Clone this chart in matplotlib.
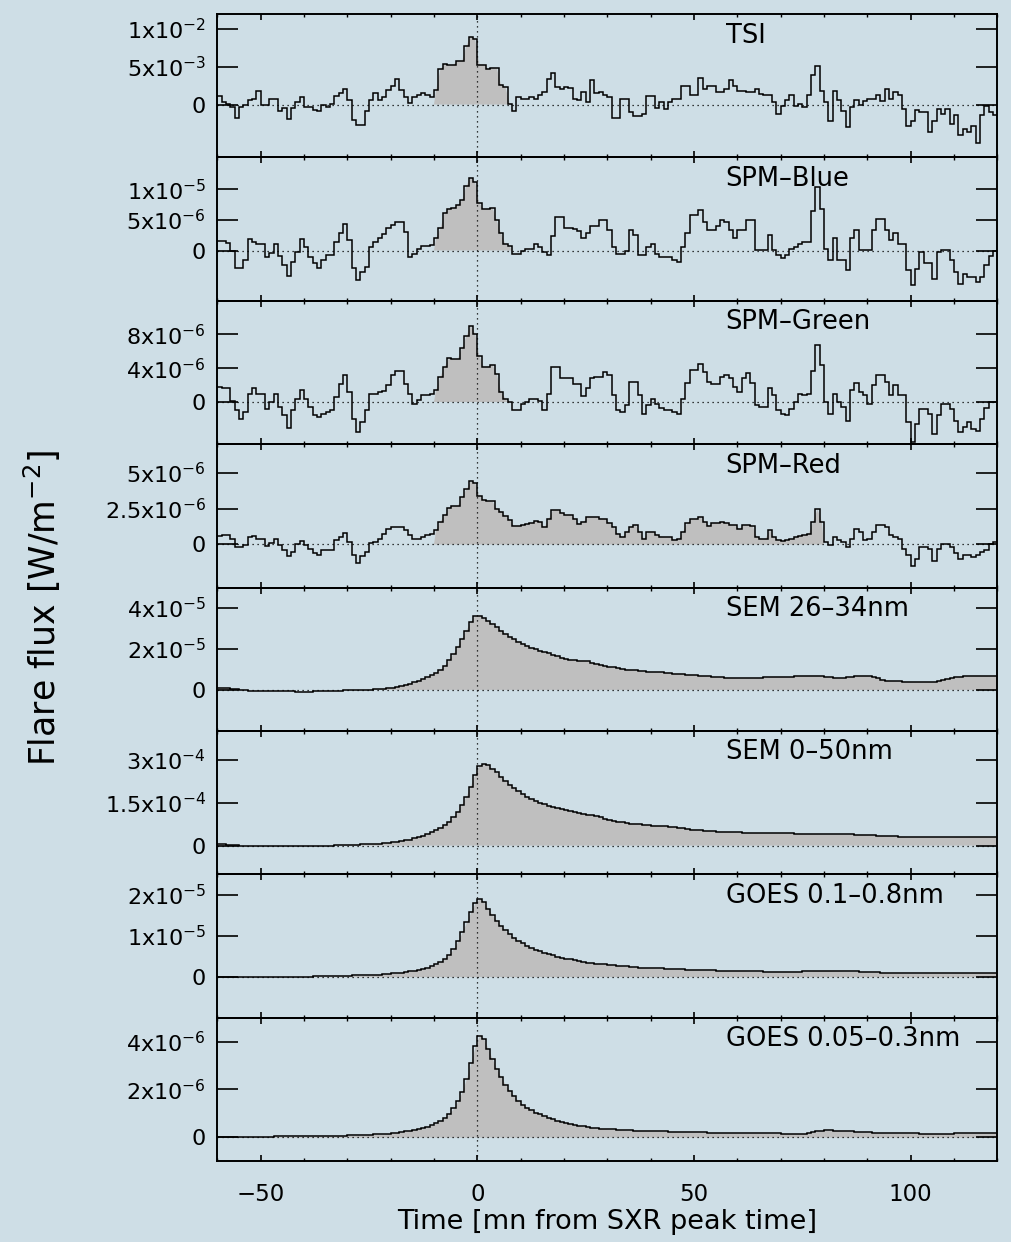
import numpy as np
import matplotlib
matplotlib.use("Agg")
import matplotlib.pyplot as plt
from matplotlib.ticker import MultipleLocator
from matplotlib.transforms import blended_transform_factory

# ---------------------------------------------------------------------------
# Flare light curves, 1-minute bins from -60 to +120 mn around the SXR peak
# ---------------------------------------------------------------------------
t_start, t_stop = -60, 120

tsi = [  # 1e-3 W/m^2
    1.1, 0.35, 0.1, -0.3, -1.75, -0.3, 0.0, 0.6, 0.7, 1.85,
    0.0, 0.0, 0.7, 0.8, -0.8, -0.5, -1.9, -0.5, 0.3, 0.95,
    -0.3, -0.3, -0.7, -0.85, 0.0, -0.3, 0.1, 1.1, 1.5, 2.1,
    0.6, -2.1, -2.7, -2.7, -0.8, 0.6, 1.5, 0.6, 1.0, 1.9,
    2.5, 3.4, 1.9, 1.0, 0.2, 1.0, 1.3, 1.5, 1.2, 1.0,
    1.9, 4.7, 5.4, 5.2, 5.3, 5.8, 5.8, 7.8, 9.0, 8.7,
    5.3, 5.3, 4.7, 4.9, 4.8, 2.6, 2.3, 0.1, -0.8, 0.95,
    0.8, 0.8, 0.95, 0.7, 1.3, 1.7, 3.4, 4.2, 2.3, 2.1,
    2.3, 2.2, 0.7, 0.6, 1.7, 0.4, 3.3, 1.5, 1.6, 1.3,
    1.0, -1.75, -1.75, 0.8, 0.8, -1.0, -1.5, -1.5, -1.2, 1.1,
    1.1, -0.5, 0.3, -0.6, 0.3, 0.8, 0.8, 2.4, 2.4, 1.2,
    1.2, 3.5, 2.0, 2.5, 2.5, 1.6, 1.6, 2.1, 3.2, 2.5,
    1.8, 1.8, 1.7, 1.7, 2.1, 1.4, 1.2, 1.2, 0.3, -1.3,
    -0.2, 0.6, 1.2, -0.2, 0.1, -0.3, 1.2, 3.9, 5.1, 1.8,
    0.3, -2.2, 1.8, 0.6, -0.9, -3.0, -0.3, 0.6, 0.0, 0.5,
    0.7, 0.7, 1.2, 0.5, 2.1, 0.8, 1.6, 1.2, -0.6, -2.8,
    -2.2, -0.7, -1.0, -1.0, -3.7, -2.2, -0.6, -1.3, -0.6, -2.6,
    -1.4, -4.0, -3.2, -3.6, -2.8, -5.1, -1.4, -0.2, -1.0, -1.4,
]

spm_blue = [  # 1e-6 W/m^2
    1.6, 1.6, 1.2, 0.0, -2.8, -2.8, -1.6, 1.95, 1.4, 1.0,
    1.0, -1.1, -0.4, 1.0, -0.9, -2.4, -4.1, -1.9, -0.2, 1.8,
    0.6, -1.0, -2.1, -2.8, -1.6, -0.7, -0.7, 1.4, 2.9, 4.3,
    1.7, -2.8, -4.8, -3.5, -2.7, 0.6, 1.4, 2.1, 2.7, 3.6,
    4.1, 4.7, 4.7, 3.0, -1.0, -0.6, 0.3, 0.7, 0.7, 0.9,
    2.0, 3.6, 6.2, 6.8, 6.9, 7.4, 8.2, 10.6, 11.9, 11.1,
    7.7, 6.7, 6.8, 7.0, 4.9, 2.8, 1.0, 0.7, -0.5, -0.6,
    0.0, 0.3, 0.3, 1.0, 0.6, -0.2, -0.8, 2.3, 5.5, 5.5,
    3.6, 3.7, 3.5, 3.2, 2.0, 2.8, 4.0, 4.0, 4.9, 4.9,
    3.3, 0.6, -0.5, -0.5, 0.0, 3.3, 2.5, -0.8, -0.8, 0.6,
    1.1, -0.5, -1.0, -1.0, -1.0, -1.6, -1.8, 0.6, 2.8, 5.8,
    5.8, 6.6, 4.6, 3.3, 3.3, 4.0, 4.9, 4.6, 3.3, 2.0,
    3.3, 3.3, 4.9, 4.9, 0.1, 0.1, 0.1, 2.5, 0.1, -0.8,
    -1.3, -0.8, 0.3, 0.6, 1.1, 1.4, 1.4, 6.5, 10.4, 6.8,
    0.3, -1.6, 2.0, -1.6, -1.6, -3.2, 2.1, 3.3, 0.1, 0.1,
    0.1, 3.3, 5.2, 5.2, 3.3, 1.7, 2.8, 1.1, 1.1, -3.2,
    -5.7, -3.0, -0.2, -2.1, -2.1, -4.6, -0.2, 0.1, 0.1, -1.6,
    -3.5, -5.4, -3.8, -4.3, -4.3, -5.1, -4.3, -2.4, -0.9, -0.1,
]

spm_green = [  # 1e-6 W/m^2
    1.8, 1.6, 1.6, 0.1, -1.0, -2.0, -1.2, 1.0, 1.6, 1.0,
    0.9, -0.8, 0.0, 0.9, -0.6, -1.6, -3.1, -1.0, 0.4, 1.4,
    0.4, -0.6, -1.6, -1.8, -1.4, -1.2, -1.0, 0.6, 2.1, 3.2,
    1.2, -2.0, -3.6, -2.4, -1.0, 0.9, 0.9, 1.2, 1.3, 2.0,
    3.2, 3.7, 3.7, 2.1, 1.0, -0.2, 0.2, 0.8, 0.8, 1.0,
    1.4, 3.0, 4.2, 5.2, 5.1, 5.1, 6.4, 7.8, 9.0, 8.1,
    5.4, 4.2, 4.2, 4.4, 3.3, 1.2, 0.4, 0.0, -0.9, -0.9,
    -0.2, 0.0, 0.4, 0.4, 0.1, -1.0, 1.0, 4.1, 4.1, 2.9,
    2.8, 2.8, 2.1, 2.1, 0.7, 1.6, 2.8, 3.0, 3.0, 3.6,
    3.2, 0.8, -1.0, -1.2, -0.4, 2.4, 2.4, 0.8, -1.4, -0.4,
    0.4, -0.2, -0.7, -1.0, -1.0, -1.2, -1.4, 0.4, 2.2, 3.8,
    3.8, 4.5, 3.6, 2.4, 2.1, 2.1, 3.0, 3.2, 2.8, 1.8,
    1.2, 2.8, 3.4, 2.2, -0.4, -0.6, -0.6, 1.7, 0.8, -1.0,
    -1.4, -1.6, -0.8, 0.0, 0.9, 0.8, 0.9, 3.7, 6.8, 4.4,
    0.0, -1.4, 1.0, 0.0, -0.6, -2.3, 1.4, 2.2, 1.2, 0.8,
    -0.2, 2.0, 3.2, 3.2, 2.4, 0.8, 2.0, 0.8, 0.8, -2.4,
    -4.8, -2.6, -0.8, -0.8, -1.4, -3.8, -1.6, -0.2, -0.2, -0.8,
    -2.2, -3.6, -3.0, -2.4, -3.2, -3.4, -2.0, -0.7, 0.0, 0.0,
]

spm_red = [  # 1e-6 W/m^2
    0.6, 0.65, 0.65, 0.4, -0.2, -0.2, -0.05, 0.5, 0.6, 0.4,
    0.35, -0.1, 0.1, 0.4, -0.05, -0.4, -0.8, -0.5, 0.0, 0.25,
    -0.05, -0.3, -0.6, -0.75, -0.35, -0.35, -0.35, 0.3, 0.5, 0.77,
    0.2, -0.75, -1.3, -0.8, -0.5, 0.1, 0.2, 0.4, 0.75, 1.05,
    1.2, 1.2, 1.2, 1.0, 0.65, 0.4, 0.4, 0.55, 0.65, 0.75,
    1.0, 1.6, 2.05, 2.55, 2.7, 2.7, 3.3, 3.85, 4.4, 4.3,
    3.4, 3.1, 3.0, 3.0, 2.5, 2.3, 2.0, 1.7, 1.3, 1.3,
    1.35, 1.4, 1.5, 1.65, 1.6, 1.2, 1.8, 2.4, 2.4, 2.2,
    2.05, 2.05, 1.8, 1.4, 1.6, 1.9, 1.9, 1.9, 1.8, 1.8,
    1.5, 1.2, 0.7, 0.5, 0.9, 1.2, 1.35, 0.9, 0.4, 0.9,
    0.9, 0.65, 0.55, 0.5, 0.5, 0.3, 0.35, 0.9, 1.5, 1.75,
    1.75, 1.9, 1.6, 1.3, 1.5, 1.5, 1.6, 1.5, 1.35, 1.35,
    1.1, 1.35, 1.35, 1.3, 0.55, 0.4, 0.4, 1.0, 0.55, 0.3,
    0.25, 0.3, 0.35, 0.5, 0.6, 0.65, 0.75, 1.6, 2.45, 1.6,
    0.2, -0.05, 0.5, 0.3, 0.2, -0.2, 0.4, 1.05, 0.9, 0.3,
    0.35, 0.9, 1.35, 1.35, 1.2, 0.65, 0.55, 0.4, -0.3, -0.75,
    -1.5, -1.0, -0.15, -0.15, -0.3, -1.15, -0.3, 0.05, 0.05, -0.2,
    -0.6, -1.0, -0.75, -0.75, -0.85, -0.75, -0.5, -0.4, 0.0, 0.2,
]

sem_26_34 = [  # 1e-5 W/m^2
    0.11, 0.10, 0.08, 0.05, 0.03, 0.01, -0.01, -0.03, -0.04, -0.05,
    -0.05, -0.05, -0.06, -0.06, -0.06, -0.07, -0.07, -0.07, -0.08, -0.08,
    -0.08, -0.08, -0.07, -0.07, -0.06, -0.05, -0.05, -0.04, -0.03, -0.02,
    -0.02, -0.01, 0.00, 0.00, 0.01, 0.02, 0.03, 0.04, 0.06, 0.08,
    0.11, 0.15, 0.20, 0.25, 0.30, 0.37, 0.45, 0.53, 0.62, 0.71,
    0.82, 0.98, 1.18, 1.45, 1.75, 2.10, 2.50, 2.90, 3.30, 3.60,
    3.62, 3.50, 3.35, 3.20, 3.05, 2.90, 2.75, 2.60, 2.48, 2.36,
    2.25, 2.15, 2.07, 1.99, 1.92, 1.85, 1.78, 1.71, 1.65, 1.58,
    1.52, 1.48, 1.44, 1.43, 1.43, 1.40, 1.33, 1.26, 1.20, 1.16,
    1.13, 1.10, 1.06, 1.02, 0.99, 0.97, 0.95, 0.93, 0.91, 0.89,
    0.88, 0.87, 0.86, 0.84, 0.82, 0.80, 0.79, 0.77, 0.75, 0.74,
    0.72, 0.70, 0.68, 0.66, 0.64, 0.62, 0.61, 0.60, 0.59, 0.58,
    0.57, 0.57, 0.58, 0.57, 0.58, 0.59, 0.61, 0.63, 0.64, 0.64,
    0.64, 0.63, 0.64, 0.66, 0.68, 0.69, 0.70, 0.70, 0.70, 0.68,
    0.64, 0.61, 0.58, 0.57, 0.58, 0.61, 0.64, 0.67, 0.69, 0.70,
    0.67, 0.62, 0.56, 0.50, 0.46, 0.44, 0.43, 0.42, 0.41, 0.40,
    0.39, 0.38, 0.38, 0.38, 0.38, 0.40, 0.44, 0.49, 0.54, 0.59,
    0.62, 0.65, 0.67, 0.69, 0.70, 0.70, 0.69, 0.68, 0.67, 0.66,
]

sem_0_50 = [  # 1e-4 W/m^2
    0.05, 0.04, 0.03, 0.02, 0.01, 0.00, -0.01, -0.01, -0.02, -0.02,
    -0.02, -0.02, -0.02, -0.02, -0.02, -0.02, -0.02, -0.02, -0.02, -0.02,
    -0.02, -0.02, -0.01, -0.01, -0.01, 0.00, 0.00, 0.01, 0.01, 0.02,
    0.02, 0.03, 0.03, 0.04, 0.05, 0.05, 0.06, 0.07, 0.08, 0.09,
    0.11, 0.13, 0.15, 0.18, 0.21, 0.25, 0.29, 0.34, 0.40, 0.46,
    0.53, 0.61, 0.71, 0.83, 0.98, 1.18, 1.42, 1.70, 2.05, 2.45,
    2.78, 2.85, 2.80, 2.68, 2.55, 2.40, 2.26, 2.12, 2.00, 1.90,
    1.80, 1.71, 1.63, 1.56, 1.50, 1.44, 1.39, 1.34, 1.30, 1.26,
    1.23, 1.20, 1.17, 1.14, 1.11, 1.08, 1.05, 1.02, 0.98, 0.94,
    0.90, 0.87, 0.84, 0.81, 0.79, 0.77, 0.76, 0.74, 0.73, 0.71,
    0.70, 0.69, 0.68, 0.67, 0.66, 0.64, 0.62, 0.60, 0.58, 0.56,
    0.55, 0.53, 0.52, 0.51, 0.50, 0.49, 0.49, 0.48, 0.48, 0.47,
    0.46, 0.45, 0.45, 0.44, 0.44, 0.43, 0.43, 0.43, 0.43, 0.43,
    0.43, 0.43, 0.43, 0.42, 0.42, 0.41, 0.41, 0.40, 0.40, 0.39,
    0.39, 0.39, 0.39, 0.39, 0.39, 0.39, 0.39, 0.38, 0.38, 0.37,
    0.36, 0.36, 0.35, 0.35, 0.34, 0.33, 0.32, 0.31, 0.30, 0.29,
    0.29, 0.29, 0.29, 0.29, 0.29, 0.29, 0.29, 0.29, 0.29, 0.29,
    0.30, 0.30, 0.30, 0.31, 0.31, 0.31, 0.31, 0.31, 0.30, 0.30,
]

goes_long = [  # 0.1-0.8 nm, 1e-5 W/m^2
    -0.02, -0.02, -0.02, -0.02, -0.02, -0.02, -0.02, -0.02, -0.01, -0.01,
    -0.01, -0.01, -0.01, -0.01, -0.01, 0.00, 0.00, 0.00, 0.00, 0.00,
    0.00, 0.00, 0.01, 0.01, 0.01, 0.01, 0.01, 0.02, 0.02, 0.02,
    0.02, 0.03, 0.03, 0.03, 0.04, 0.04, 0.05, 0.05, 0.06, 0.07,
    0.08, 0.09, 0.10, 0.11, 0.13, 0.14, 0.16, 0.18, 0.21, 0.25,
    0.30, 0.36, 0.44, 0.54, 0.68, 0.86, 1.08, 1.33, 1.58, 1.80,
    1.90, 1.82, 1.66, 1.50, 1.36, 1.24, 1.13, 1.03, 0.95, 0.88,
    0.82, 0.76, 0.71, 0.66, 0.62, 0.58, 0.55, 0.52, 0.49, 0.46,
    0.44, 0.42, 0.40, 0.38, 0.36, 0.34, 0.33, 0.32, 0.31, 0.30,
    0.29, 0.28, 0.27, 0.26, 0.25, 0.24, 0.23, 0.22, 0.22, 0.21,
    0.21, 0.20, 0.20, 0.19, 0.19, 0.18, 0.18, 0.18, 0.17, 0.17,
    0.17, 0.16, 0.16, 0.16, 0.16, 0.15, 0.15, 0.15, 0.14, 0.14,
    0.14, 0.14, 0.13, 0.13, 0.13, 0.13, 0.12, 0.12, 0.12, 0.12,
    0.12, 0.12, 0.12, 0.12, 0.12, 0.13, 0.14, 0.15, 0.15, 0.15,
    0.15, 0.15, 0.14, 0.14, 0.13, 0.13, 0.13, 0.13, 0.12, 0.12,
    0.11, 0.11, 0.11, 0.10, 0.10, 0.09, 0.09, 0.09, 0.08, 0.08,
    0.08, 0.08, 0.08, 0.09, 0.09, 0.09, 0.09, 0.09, 0.09, 0.09,
    0.10, 0.10, 0.10, 0.10, 0.10, 0.10, 0.10, 0.10, 0.10, 0.10,
]

goes_short = [  # 0.05-0.3 nm, 1e-6 W/m^2
    0.00, 0.00, 0.00, 0.00, 0.01, 0.01, 0.01, 0.01, 0.02, 0.02,
    0.02, 0.02, 0.02, 0.03, 0.03, 0.03, 0.03, 0.04, 0.04, 0.04,
    0.04, 0.04, 0.05, 0.05, 0.05, 0.05, 0.05, 0.06, 0.06, 0.06,
    0.07, 0.07, 0.08, 0.08, 0.09, 0.10, 0.11, 0.12, 0.13, 0.15,
    0.17, 0.19, 0.21, 0.24, 0.27, 0.30, 0.34, 0.38, 0.43, 0.50,
    0.58, 0.68, 0.80, 0.98, 1.20, 1.50, 1.90, 2.45, 3.10, 3.80,
    4.25, 4.10, 3.70, 3.25, 2.85, 2.50, 2.20, 1.95, 1.72, 1.52,
    1.36, 1.23, 1.12, 1.03, 0.95, 0.87, 0.81, 0.75, 0.69, 0.64,
    0.59, 0.55, 0.51, 0.48, 0.45, 0.42, 0.40, 0.38, 0.36, 0.35,
    0.33, 0.32, 0.31, 0.30, 0.29, 0.28, 0.27, 0.27, 0.26, 0.26,
    0.25, 0.25, 0.24, 0.24, 0.23, 0.23, 0.22, 0.22, 0.21, 0.21,
    0.20, 0.20, 0.20, 0.19, 0.19, 0.19, 0.18, 0.18, 0.18, 0.18,
    0.17, 0.17, 0.17, 0.17, 0.17, 0.17, 0.17, 0.16, 0.16, 0.16,
    0.15, 0.15, 0.14, 0.14, 0.14, 0.15, 0.18, 0.21, 0.24, 0.26,
    0.28, 0.28, 0.27, 0.26, 0.26, 0.25, 0.24, 0.23, 0.22, 0.21,
    0.20, 0.19, 0.18, 0.18, 0.17, 0.17, 0.17, 0.16, 0.16, 0.16,
    0.16, 0.16, 0.15, 0.15, 0.15, 0.14, 0.14, 0.14, 0.15, 0.15,
    0.16, 0.16, 0.17, 0.17, 0.17, 0.17, 0.17, 0.17, 0.17, 0.17,
]

titles = ["TSI", "SPM\u2013Blue", "SPM\u2013Green", "SPM\u2013Red",
          "SEM 26\u201334nm", "SEM 0\u201350nm",
          "GOES 0.1\u20130.8nm", "GOES 0.05\u20130.3nm"]
series = [tsi, spm_blue, spm_green, spm_red,
          sem_26_34, sem_0_50, goes_long, goes_short]
units = [1e-3, 1e-6, 1e-6, 1e-6, 1e-5, 1e-4, 1e-5, 1e-6]
y_limits = [(-7e-3, 1.2e-2), (-8.2e-6, 1.52e-5), (-5e-6, 1.2e-5), (-3e-6, 7e-6),
            (-2e-5, 5e-5), (-1e-4, 4e-4), (-1e-5, 2.5e-5), (-1e-6, 5e-6)]
y_ticks = [[0, 5e-3, 1e-2], [0, 5e-6, 1e-5], [0, 4e-6, 8e-6], [0, 2.5e-6, 5e-6],
           [0, 2e-5, 4e-5], [0, 1.5e-4, 3e-4], [0, 1e-5, 2e-5], [0, 2e-6, 4e-6]]
y_ticklabels = [
    ["0", r"5x10$^{-3}$", r"1x10$^{-2}$"],
    ["0", r"5x10$^{-6}$", r"1x10$^{-5}$"],
    ["0", r"4x10$^{-6}$", r"8x10$^{-6}$"],
    ["0", r"2.5x10$^{-6}$", r"5x10$^{-6}$"],
    ["0", r"2x10$^{-5}$", r"4x10$^{-5}$"],
    ["0", r"1.5x10$^{-4}$", r"3x10$^{-4}$"],
    ["0", r"1x10$^{-5}$", r"2x10$^{-5}$"],
    ["0", r"2x10$^{-6}$", r"4x10$^{-6}$"],
]
# shaded flare interval per channel (bin index range); None = whole positive curve
shade_bins = [(50, 68), (50, 68), (50, 67), (50, 140), None, None, None, None]

BG = "#cedee6"
SHADE = "#bfbfbf"

plt.rcParams["font.family"] = ["DejaVu Sans"]
plt.rcParams["mathtext.fontset"] = "dejavusans"

fig = plt.figure(figsize=(10.11, 12.42), dpi=100)
fig.patch.set_facecolor(BG)
gs = fig.add_gridspec(len(series), 1, left=0.2149, right=0.9865,
                      top=0.98873, bottom=0.0652, hspace=0)
axes = [fig.add_subplot(gs[k]) for k in range(len(series))]

edges = np.arange(t_start, t_stop + 1)
centers = edges[:-1] + 0.5

for k, ax in enumerate(axes):
    vals = np.asarray(series[k]) * units[k]
    ax.set_facecolor("none")
    ax.set_xlim(t_start, t_stop)
    ax.set_ylim(*y_limits[k])

    span = shade_bins[k]
    if span is not None:
        a, b = span
        xs = np.concatenate([[edges[a]], centers[a:b], [edges[b]]])
        ys = np.concatenate([[0.0], vals[a:b], [0.0]])
        ax.fill(xs, ys, color=SHADE, lw=0, zorder=1)
    else:
        xs = np.concatenate([[t_start], centers, [t_stop]])
        ys = np.concatenate([[vals[0]], vals, [vals[-1]]])
        ax.fill_between(xs, ys, 0, where=ys >= 0, interpolate=True,
                        color=SHADE, lw=0, zorder=1)

    ax.axhline(0, color="k", lw=0.9, ls=(0, (1, 3)), zorder=2)
    ax.axvline(0, color="k", lw=0.9, ls=(0, (1, 3)), zorder=2)
    ax.stairs(vals, edges, baseline=None, color="k", lw=1.1, zorder=3)

    ax.text(57.3, 0.85, titles[k], fontsize=18.5,
            transform=blended_transform_factory(ax.transData, ax.transAxes),
            ha="left", va="center")

    ax.set_yticks(y_ticks[k])
    ax.set_yticklabels(y_ticklabels[k])
    ax.xaxis.set_major_locator(MultipleLocator(50))
    ax.xaxis.set_minor_locator(MultipleLocator(10))
    ax.tick_params(axis="y", which="major", direction="in", left=True, right=True,
                   length=15, width=1.2, labelsize=16, pad=8)
    ax.tick_params(axis="x", which="major", direction="in", top=True, bottom=True,
                   length=4, width=1.2, labelsize=16.5, pad=16)
    ax.tick_params(axis="x", which="minor", direction="in", top=True, bottom=True,
                   length=2, width=1.0)
    for sp in ax.spines.values():
        sp.set_linewidth(1.4)
    if k < len(series) - 1:
        ax.tick_params(axis="x", labelbottom=False)

axes[-1].set_xlabel("Time [mn from SXR peak time]", fontsize=19.5, labelpad=2)
fig.text(0.042, 0.511, r"Flare flux [W/m$^{-2}$]", rotation=90,
         fontsize=25, ha="center", va="center")

fig.savefig("out.png", dpi=100, facecolor=BG)
